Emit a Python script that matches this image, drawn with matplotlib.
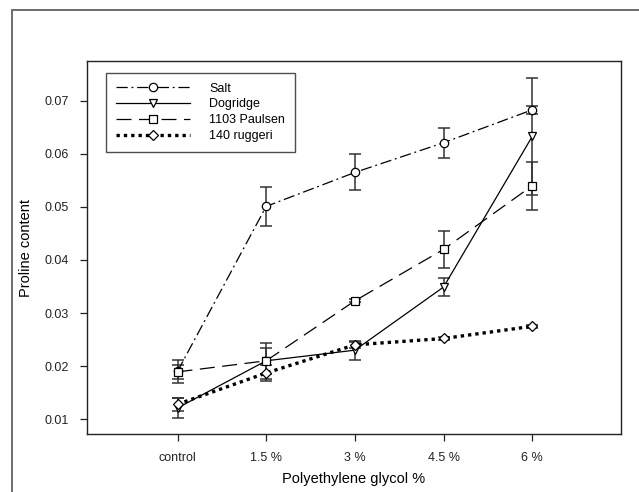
import numpy as np
import matplotlib.pyplot as plt
from matplotlib.patches import Rectangle

# data
categories = ['control', '1.5 %', '3 %', '4.5 %', '6 %']

salt = [0.0190, 0.0501, 0.0565, 0.0621, 0.0683]
salt_err = [0.0022, 0.0037, 0.0034, 0.0028, 0.0007]

dogridge = [0.0121, 0.0210, 0.0230, 0.0349, 0.0633]
dogridge_err = [0.0018, 0.0025, 0.0018, 0.0017, 0.0110]

paulsen = [0.0189, 0.0210, 0.0323, 0.0420, 0.0540]
paulsen_err = [0.0013, 0.0034, 0.0003, 0.0035, 0.0045]

ruggeri = [0.0128, 0.0187, 0.0240, 0.0252, 0.0275]
ruggeri_err = [0.0012, 0.0015, 0.0006, 0.0003, 0.0003]

plt.rcParams['font.family'] = ['Liberation Sans', 'DejaVu Sans']

fig = plt.figure(figsize=(6.39, 4.92), dpi=100)
ax = fig.add_axes([0.1362, 0.1179, 0.8356, 0.7581])

# outer grey frame
fig.patches.append(Rectangle((12 / 639, -0.05), 1.2, 1 - 10 / 492 + 0.05,
                             transform=fig.transFigure, fill=False,
                             edgecolor='#6e6e6e', linewidth=1.4))

x = np.arange(len(categories))
err_kw = dict(fmt='none', ecolor='#333333', elinewidth=1.1, capsize=4, capthick=1.1)

ax.errorbar(x, salt, yerr=salt_err, **err_kw)
ax.errorbar(x, dogridge, yerr=dogridge_err, **err_kw)
ax.errorbar(x, paulsen, yerr=paulsen_err, **err_kw)
ax.errorbar(x, ruggeri, yerr=ruggeri_err, **err_kw)

mk = dict(markersize=6, markerfacecolor='white', markeredgecolor='black',
          markeredgewidth=0.9, color='black')
ax.plot(x, salt, marker='o', linestyle=(0, (9, 3, 1.5, 3)), linewidth=0.9,
        label='Salt', **mk)
ax.plot(x, dogridge, marker='v', linestyle='-', linewidth=0.9,
        label='Dogridge', **mk)
ax.plot(x, paulsen, marker='s', linestyle=(0, (12, 6)), linewidth=0.9,
        label='1103 Paulsen', **mk)
ax.plot(x, ruggeri, marker='D', linestyle=(0, (1, 1.2)), linewidth=2.4,
        label='140 ruggeri', markersize=5, markerfacecolor='white',
        markeredgecolor='black', markeredgewidth=0.9, color='black')

ax.set_xlim(-1.02, 5.0)
ax.set_ylim(0.0072, 0.0775)
ax.set_xticks(x)
ax.set_xticklabels(categories)
ax.set_yticks([0.01, 0.02, 0.03, 0.04, 0.05, 0.06, 0.07])
ax.set_yticklabels(['0.01', '0.02', '0.03', '0.04', '0.05', '0.06', '0.07'])
ax.tick_params(axis='both', direction='out', length=5, width=0.9,
               labelsize=9, colors='#222222', pad=8)
for s in ax.spines.values():
    s.set_linewidth(1.0)
    s.set_color('#222222')

ax.set_xlabel('Polyethylene glycol %', fontsize=10.5, labelpad=6)
ax.set_ylabel('Proline content', fontsize=10.5, labelpad=8)

leg = ax.legend(loc='upper left', bbox_to_anchor=(0.027, 0.982), fontsize=9,
                handlelength=5.9, numpoints=1, frameon=True, fancybox=False,
                borderpad=0.8, labelspacing=0.3, handletextpad=1.5,
                borderaxespad=0.4)
leg.get_frame().set_edgecolor('#222222')
leg.get_frame().set_linewidth(1.0)

fig.savefig('out.png', dpi=100)
